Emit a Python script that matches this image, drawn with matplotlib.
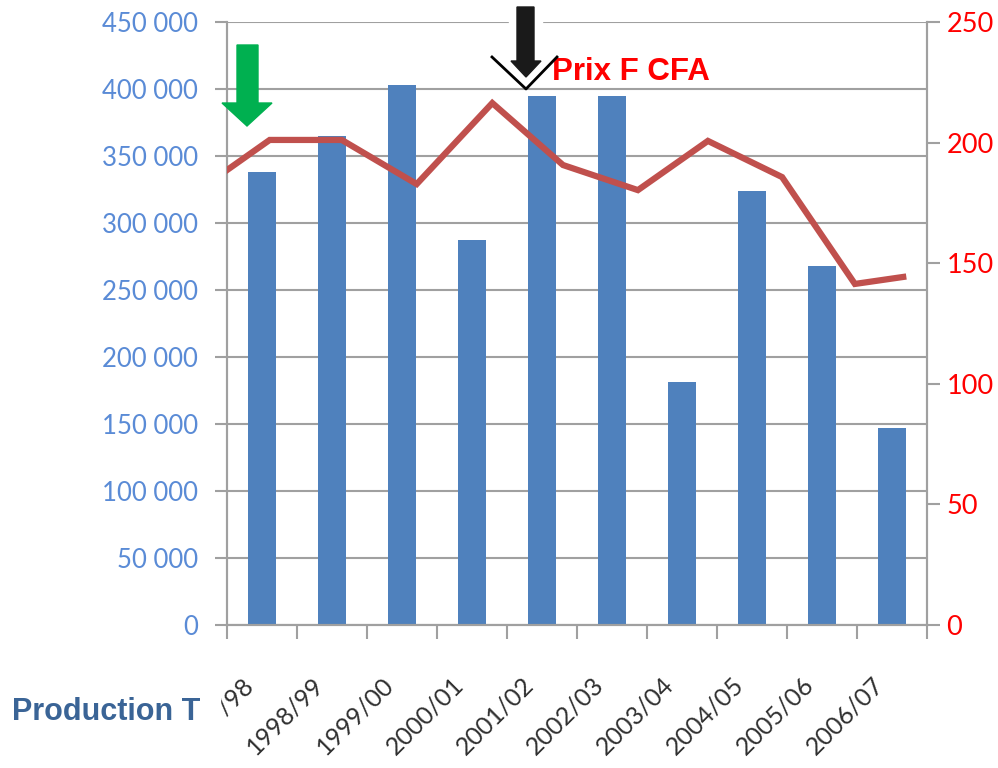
import matplotlib
matplotlib.use("Agg")
import matplotlib.pyplot as plt
from matplotlib.patches import Polygon, Rectangle
from matplotlib.lines import Line2D
from matplotlib.ticker import FuncFormatter
from matplotlib.transforms import ScaledTranslation

seasons = ["1997/98", "1998/99", "1999/00", "2000/01", "2001/02",
           "2002/03", "2003/04", "2004/05", "2005/06", "2006/07"]
production = [338000, 365000, 403000, 287000, 395000,
              395000, 181000, 324000, 268000, 147000]

# price line is offset from the bars in the original chart (category units)
price_x = [-0.5, 0.11, 1.14, 2.21, 3.29, 4.30, 5.37, 6.37, 7.43, 8.47, 9.16]
price = [188.6, 201.1, 201.1, 182.8, 216.4, 190.7, 180.3, 200.7, 185.7, 141.4, 144.3]

W, H = 998, 768
fig = plt.figure(figsize=(W / 100, H / 100), dpi=100)
ax = fig.add_axes([227 / W, 1 - 625 / H, 700 / W, 603 / H])
ax2 = ax.twinx()

grey = "#a0a0a0"
ax.bar(range(len(seasons)), production, width=0.41, color="#4F81BD", zorder=2)
ax.set_xlim(-0.5, len(seasons) - 0.5)
ax.set_ylim(0, 450000)
ax.set_yticks(range(0, 450001, 50000))
ax.yaxis.set_major_formatter(FuncFormatter(lambda v, p: f"{int(v):,}".replace(",", " ")))
ax.grid(axis="y", color=grey, lw=1.5, zorder=0)
ax.set_axisbelow(True)

ax.set_xticks([i - 0.5 for i in range(len(seasons) + 1)])
ax.set_xticklabels([])
ax.set_xticks(range(len(seasons)), minor=True)
ax.set_xticklabels(seasons, minor=True, rotation=45, ha="right", va="center",
                   rotation_mode="anchor", fontsize=18, color="#303030", family="Lato")
ax.tick_params(axis="x", which="major", length=10, width=1.5, color=grey)
ax.tick_params(axis="x", which="minor", length=0, pad=40)
shift = ScaledTranslation(-12 / 100, 0, fig.dpi_scale_trans)
for lab in ax.get_xticklabels(minor=True):
    lab.set_transform(lab.get_transform() + shift)
ax.tick_params(axis="y", length=9, width=1.5, color=grey, labelsize=18.5,
               labelcolor="#5A8BD6", pad=12)
for lab in ax.get_yticklabels():
    lab.set_family("Lato")

ax2.plot(price_x, price, color="#C0504D", lw=4.5, solid_joinstyle="miter", zorder=3)
ax2.set_ylim(0, 250)
ax2.set_yticks(range(0, 251, 50))
ax2.tick_params(axis="y", length=9, width=1.5, color=grey, labelsize=19.5,
                labelcolor="#FF0000", pad=5)
for lab in ax2.get_yticklabels():
    lab.set_family("Lato")

for a in (ax, ax2):
    a.spines["top"].set_visible(False)
    for s in ("left", "right", "bottom"):
        a.spines[s].set_color(grey)
        a.spines[s].set_linewidth(1.5)


def px(x, y):
    return (x / W, 1 - y / H)


# green arrow
fig.patches.append(Polygon([px(237, 45), px(258, 45), px(258, 103), px(272, 103),
                            px(247, 126), px(222, 103), px(237, 103)],
                           closed=True, color="#00B050", transform=fig.transFigure, zorder=5))
# black arrow with white backing
fig.patches.append(Rectangle(px(509, 53), 33 / W, 53 / H, color="white",
                             transform=fig.transFigure, zorder=5))
fig.patches.append(Polygon([px(517, 7), px(534, 7), px(534, 61), px(541, 61),
                            px(526, 77), px(511, 61), px(517, 61)],
                           closed=True, color="#1a1a1a", transform=fig.transFigure, zorder=6))
vx = [492 / W, 526 / W, 557 / W]
fig.lines.append(Line2D(vx, [1 - 52 / H, 1 - 84 / H, 1 - 52 / H], color="white", lw=4,
                        transform=fig.transFigure, zorder=6))
fig.lines.append(Line2D(vx, [1 - 57 / H, 1 - 89 / H, 1 - 57 / H], color="black", lw=2,
                        transform=fig.transFigure, zorder=7))

fig.text(552 / W, 1 - 80 / H, "Prix F CFA", color="#FF0000", fontsize=22.5,
         fontweight="bold", family="Liberation Sans", ha="left", va="baseline")
# white box hiding the start of the first season label
fig.patches.append(Rectangle(px(0, 768), 220 / W, 90 / H, color="white",
                             transform=fig.transFigure, zorder=9))
fig.text(12 / W, 1 - 720 / H, "Production T", color="#3A6496", fontsize=22,
         fontweight="bold", family="Liberation Sans", ha="left", va="baseline", zorder=10)

fig.savefig("out.png", dpi=100)
